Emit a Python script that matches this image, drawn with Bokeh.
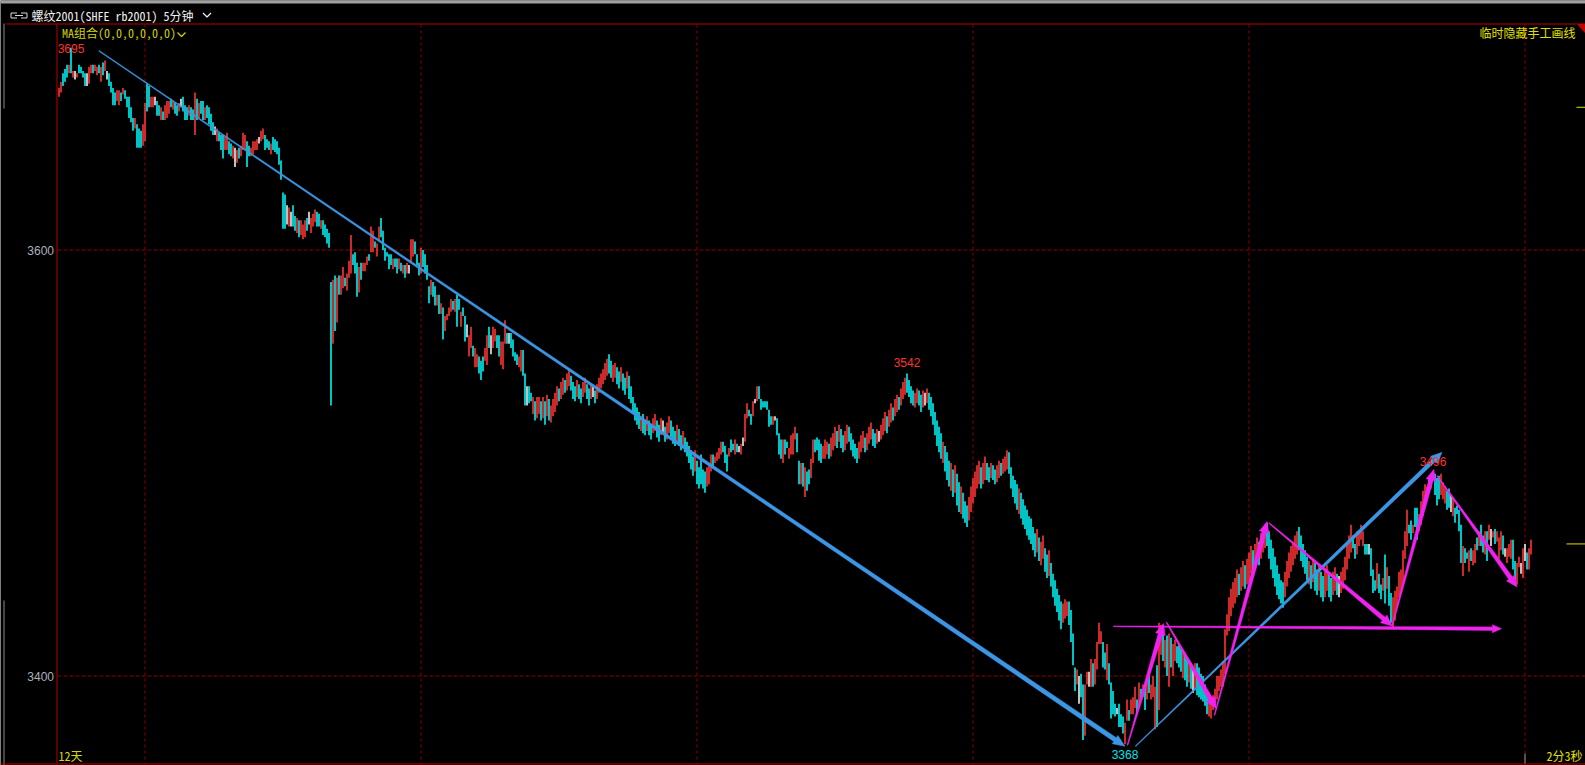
import math
from bokeh.plotting import figure
from bokeh.models import Range1d
from bokeh.core.properties import value
from bokeh.embed import file_html
from bokeh.resources import INLINE

# ---------------- data: rb2001, 5-minute bars ----------------
high = [
    3676, 3679, 3683, 3685, 3687, 3687, 3695, 3684, 3684, 3683,
    3687, 3686, 3684, 3683, 3683, 3686, 3687, 3687, 3687, 3686,
    3687, 3686, 3688, 3689, 3684, 3683, 3679, 3676, 3674, 3675,
    3675, 3674, 3676, 3675, 3672, 3672, 3667, 3662, 3662, 3659,
    3657, 3656, 3659, 3669, 3678, 3677, 3672, 3672, 3672, 3670,
    3668, 3667, 3665, 3668, 3670, 3670, 3671, 3670, 3669, 3668,
    3669, 3671, 3672, 3668, 3667, 3668, 3667, 3666, 3674, 3671,
    3669, 3670, 3670, 3667, 3668, 3667, 3664, 3660, 3658, 3657,
    3655, 3654, 3654, 3653, 3655, 3651, 3650, 3649, 3648, 3647,
    3648, 3649, 3655, 3654, 3651, 3649, 3648, 3651, 3651, 3652,
    3653, 3656, 3657, 3654, 3652, 3651, 3650, 3653, 3652, 3651,
    3648, 3642, 3627, 3626, 3621, 3620, 3618, 3621, 3616, 3615,
    3614, 3614, 3612, 3614, 3615, 3618, 3615, 3617, 3619, 3618,
    3617, 3614, 3614, 3612, 3610, 3608, 3585, 3586, 3588, 3587,
    3588, 3588, 3592, 3587, 3589, 3595, 3607, 3598, 3599, 3594,
    3592, 3594, 3594, 3594, 3597, 3598, 3611, 3609, 3604, 3603,
    3611, 3615, 3609, 3601, 3599, 3598, 3598, 3596, 3596, 3596,
    3596, 3594, 3593, 3593, 3594, 3593, 3605, 3605, 3604, 3598,
    3594, 3601, 3600, 3598, 3593, 3583, 3586, 3585, 3583, 3579,
    3579, 3575, 3573, 3569, 3570, 3573, 3577, 3576, 3577, 3579,
    3577, 3571, 3573, 3569, 3565, 3560, 3564, 3555, 3554, 3551,
    3550, 3548, 3550, 3554, 3560, 3564, 3560, 3564, 3563, 3560,
    3560, 3557, 3557, 3567, 3561, 3561, 3561, 3558, 3552, 3551,
    3550, 3553, 3553, 3542, 3536, 3536, 3533, 3531, 3529, 3531,
    3531, 3529, 3531, 3529, 3532, 3530, 3527, 3530, 3533, 3536,
    3535, 3538, 3540, 3539, 3542, 3544, 3541, 3538, 3536, 3539,
    3537, 3535, 3538, 3540, 3537, 3535, 3537, 3536, 3534, 3537,
    3540, 3542, 3544, 3547, 3549, 3551, 3548, 3546, 3547, 3545,
    3543, 3545, 3542, 3540, 3543, 3541, 3536, 3531, 3528, 3526,
    3524, 3522, 3523, 3520, 3522, 3520, 3518, 3521, 3523, 3520,
    3518, 3521, 3520, 3517, 3519, 3522, 3520, 3517, 3515, 3518,
    3516, 3513, 3515, 3512, 3510, 3508, 3506, 3503, 3506, 3501,
    3498, 3504, 3497, 3496, 3498, 3500, 3504, 3504, 3503, 3505,
    3507, 3510, 3510, 3508, 3504, 3507, 3511, 3509, 3511, 3509,
    3508, 3509, 3512, 3523, 3528, 3525, 3523, 3529, 3530, 3536,
    3536, 3530, 3529, 3529, 3529, 3525, 3522, 3522, 3522, 3521,
    3514, 3511, 3511, 3511, 3510, 3507, 3513, 3514, 3517, 3514,
    3501, 3500, 3500, 3498, 3496, 3497, 3502, 3511, 3511, 3512,
    3511, 3509, 3508, 3511, 3510, 3509, 3512, 3514, 3517, 3515,
    3518, 3516, 3513, 3515, 3518, 3517, 3514, 3511, 3509, 3507,
    3510, 3513, 3515, 3512, 3514, 3517, 3519, 3516, 3514, 3516,
    3515, 3518, 3521, 3524, 3522, 3525, 3528, 3526, 3530, 3532,
    3531, 3535, 3538, 3540, 3542, 3539, 3536, 3534, 3533, 3535,
    3534, 3532, 3534, 3533, 3535, 3533, 3531, 3528, 3524, 3520,
    3517, 3514, 3510, 3508, 3505, 3501, 3500, 3497, 3499, 3495,
    3491, 3489, 3486, 3482, 3480, 3484, 3489, 3493, 3496, 3499,
    3501, 3498, 3500, 3503, 3500, 3498, 3500, 3499, 3497, 3499,
    3501, 3500, 3502, 3503, 3506, 3505, 3498, 3494, 3492, 3490,
    3488, 3486, 3483, 3480, 3478, 3475, 3474, 3470, 3467, 3469,
    3465, 3463, 3466, 3460, 3457, 3459, 3453, 3448, 3445, 3441,
    3438, 3435, 3434, 3436, 3435, 3435, 3431, 3420, 3404, 3403,
    3400, 3401, 3396, 3396, 3402, 3402, 3408, 3406, 3408, 3416,
    3425, 3421, 3416, 3411, 3415, 3406, 3397, 3393, 3387, 3385,
    3387, 3382, 3381, 3378, 3389, 3384, 3389, 3390, 3395, 3389,
    3397, 3394, 3396, 3395, 3399, 3400, 3396, 3400, 3395, 3405,
    3425, 3424, 3424, 3417, 3419, 3420, 3418, 3415, 3417, 3414,
    3415, 3413, 3412, 3410, 3409, 3407, 3406, 3404, 3406, 3406,
    3404, 3401, 3400, 3396, 3393, 3390, 3389, 3391, 3394, 3400,
    3400, 3403, 3407, 3422, 3429, 3437, 3441, 3444, 3446, 3450,
    3448, 3451, 3454, 3452, 3455, 3458, 3461, 3459, 3462, 3465,
    3463, 3467, 3469, 3470, 3472, 3468, 3464, 3460, 3456, 3452,
    3448, 3445, 3444, 3449, 3454, 3458, 3461, 3463, 3466, 3468,
    3470, 3466, 3462, 3459, 3456, 3454, 3452, 3455, 3453, 3450,
    3452, 3449, 3447, 3450, 3452, 3448, 3446, 3449, 3451, 3448,
    3447, 3449, 3451, 3456, 3462, 3466, 3471, 3466, 3462, 3468,
    3468, 3471, 3468, 3462, 3462, 3462, 3460, 3450, 3445, 3453,
    3448, 3443, 3446, 3457, 3451, 3447, 3439, 3437, 3440, 3442,
    3449, 3450, 3459, 3468, 3478, 3471, 3473, 3471, 3479, 3479,
    3476, 3482, 3487, 3490, 3489, 3493, 3495, 3496, 3495, 3493,
    3494, 3495, 3491, 3489, 3487, 3488, 3485, 3484, 3479, 3480,
    3478, 3471, 3461, 3460, 3458, 3459, 3460, 3459, 3462, 3465,
    3468, 3471, 3466, 3468, 3468, 3471, 3469, 3468, 3469, 3468,
    3465, 3468, 3466, 3460, 3460, 3462, 3464, 3464, 3454, 3453,
    3456, 3453, 3460, 3462, 3458, 3460, 3464,
]

low = [
    3672, 3674, 3677, 3679, 3681, 3683, 3683, 3681, 3680, 3681,
    3683, 3683, 3681, 3677, 3677, 3678, 3683, 3683, 3684, 3682,
    3683, 3679, 3682, 3684, 3680, 3677, 3674, 3668, 3668, 3670,
    3668, 3670, 3673, 3671, 3667, 3662, 3660, 3656, 3657, 3648,
    3648, 3648, 3649, 3651, 3665, 3667, 3667, 3667, 3668, 3663,
    3663, 3661, 3661, 3661, 3662, 3664, 3667, 3666, 3664, 3663,
    3665, 3667, 3665, 3661, 3661, 3663, 3661, 3661, 3654, 3661,
    3662, 3664, 3661, 3661, 3662, 3659, 3656, 3654, 3654, 3651,
    3651, 3647, 3643, 3647, 3647, 3645, 3644, 3643, 3639, 3641,
    3643, 3644, 3647, 3647, 3639, 3644, 3644, 3645, 3647, 3647,
    3650, 3651, 3652, 3647, 3648, 3647, 3645, 3647, 3646, 3645,
    3640, 3633, 3610, 3610, 3612, 3611, 3611, 3611, 3609, 3608,
    3606, 3607, 3605, 3606, 3609, 3612, 3608, 3611, 3613, 3611,
    3611, 3610, 3607, 3606, 3603, 3601, 3527, 3556, 3562, 3566,
    3579, 3579, 3582, 3583, 3581, 3587, 3589, 3593, 3589, 3578,
    3580, 3586, 3590, 3590, 3593, 3595, 3599, 3599, 3601, 3597,
    3604, 3606, 3600, 3595, 3597, 3591, 3593, 3591, 3592, 3589,
    3591, 3590, 3589, 3587, 3589, 3589, 3594, 3597, 3598, 3593,
    3588, 3589, 3592, 3589, 3586, 3575, 3579, 3578, 3574, 3574,
    3570, 3570, 3558, 3562, 3567, 3569, 3571, 3572, 3571, 3564,
    3572, 3564, 3569, 3557, 3559, 3550, 3554, 3550, 3545, 3545,
    3542, 3539, 3543, 3548, 3546, 3554, 3551, 3554, 3557, 3554,
    3550, 3546, 3544, 3556, 3556, 3556, 3554, 3550, 3548, 3546,
    3545, 3543, 3541, 3527, 3527, 3528, 3529, 3523, 3520, 3521,
    3523, 3520, 3521, 3518, 3522, 3520, 3519, 3522, 3524, 3527,
    3529, 3530, 3532, 3533, 3534, 3536, 3534, 3530, 3529, 3531,
    3530, 3528, 3531, 3533, 3530, 3527, 3530, 3531, 3528, 3530,
    3533, 3535, 3537, 3539, 3541, 3542, 3540, 3538, 3540, 3537,
    3535, 3538, 3534, 3532, 3535, 3530, 3528, 3524, 3520, 3518,
    3516, 3515, 3514, 3513, 3515, 3513, 3511, 3514, 3515, 3512,
    3510, 3513, 3514, 3510, 3511, 3514, 3512, 3509, 3508, 3510,
    3508, 3506, 3507, 3505, 3503, 3500, 3497, 3494, 3496, 3490,
    3488, 3490, 3488, 3486, 3489, 3490, 3496, 3498, 3500, 3501,
    3502, 3504, 3505, 3500, 3496, 3503, 3505, 3506, 3504, 3505,
    3505, 3504, 3508, 3510, 3521, 3522, 3518, 3522, 3528, 3529,
    3530, 3525, 3526, 3526, 3525, 3517, 3518, 3518, 3520, 3513,
    3504, 3502, 3500, 3504, 3507, 3502, 3504, 3504, 3511, 3505,
    3490, 3490, 3489, 3484, 3487, 3490, 3493, 3500, 3505, 3506,
    3501, 3500, 3502, 3502, 3504, 3502, 3503, 3506, 3508, 3507,
    3510, 3507, 3505, 3506, 3509, 3510, 3506, 3503, 3502, 3500,
    3502, 3505, 3507, 3505, 3506, 3509, 3511, 3508, 3507, 3509,
    3510, 3511, 3513, 3515, 3514, 3517, 3519, 3520, 3522, 3524,
    3525, 3527, 3530, 3532, 3533, 3531, 3528, 3527, 3526, 3528,
    3527, 3524, 3526, 3527, 3528, 3525, 3522, 3518, 3513, 3508,
    3505, 3502, 3500, 3496, 3492, 3489, 3487, 3484, 3486, 3480,
    3477, 3476, 3474, 3472, 3470, 3473, 3477, 3481, 3484, 3488,
    3490, 3488, 3490, 3492, 3492, 3491, 3493, 3492, 3490, 3491,
    3493, 3494, 3495, 3496, 3497, 3495, 3488, 3484, 3481, 3478,
    3476, 3474, 3471, 3469, 3466, 3464, 3462, 3459, 3456, 3458,
    3454, 3452, 3455, 3449, 3446, 3447, 3442, 3437, 3433, 3430,
    3426, 3422, 3425, 3427, 3428, 3424, 3416, 3405, 3393, 3396,
    3387, 3390, 3370, 3372, 3396, 3395, 3395, 3395, 3396, 3403,
    3415, 3415, 3404, 3403, 3398, 3396, 3380, 3382, 3381, 3382,
    3376, 3376, 3373, 3368, 3379, 3379, 3382, 3382, 3385, 3382,
    3385, 3389, 3390, 3384, 3389, 3392, 3389, 3390, 3375, 3376,
    3384, 3410, 3407, 3404, 3400, 3395, 3404, 3400, 3407, 3406,
    3404, 3402, 3399, 3398, 3395, 3397, 3394, 3392, 3394, 3391,
    3390, 3389, 3388, 3386, 3382, 3381, 3380, 3384, 3386, 3389,
    3393, 3395, 3395, 3401, 3419, 3421, 3428, 3432, 3434, 3437,
    3438, 3440, 3442, 3441, 3443, 3444, 3448, 3447, 3450, 3453,
    3452, 3455, 3458, 3460, 3461, 3455, 3450, 3446, 3442, 3438,
    3436, 3434, 3432, 3437, 3442, 3446, 3449, 3452, 3455, 3457,
    3459, 3454, 3451, 3448, 3445, 3443, 3441, 3444, 3440, 3438,
    3440, 3437, 3435, 3437, 3440, 3437, 3435, 3438, 3440, 3438,
    3437, 3439, 3441, 3445, 3450, 3455, 3458, 3460, 3455, 3457,
    3461, 3464, 3461, 3457, 3457, 3457, 3447, 3439, 3440, 3441,
    3439, 3436, 3440, 3434, 3441, 3433, 3425, 3423, 3426, 3432,
    3437, 3439, 3443, 3455, 3461, 3467, 3464, 3467, 3470, 3464,
    3468, 3471, 3475, 3479, 3485, 3486, 3488, 3492, 3485, 3480,
    3483, 3485, 3483, 3481, 3478, 3479, 3477, 3475, 3472, 3476,
    3468, 3453, 3447, 3453, 3455, 3449, 3454, 3452, 3453, 3459,
    3461, 3461, 3458, 3457, 3454, 3464, 3461, 3465, 3462, 3463,
    3455, 3459, 3457, 3456, 3453, 3456, 3455, 3450, 3445, 3443,
    3451, 3448, 3446, 3454, 3450, 3450, 3457,
]

# bar direction: u = close above open, d = close below open, f = unchanged
trend = (
    "u u d d d u d u f u  d d d d f u u d u u  d u d u f d d d d u  u d u d d d d d u d "
    "d d u u d d u u f d  d u d u u u d u d d  u f d d d u d d u d  u d d u d d d d f u "
    "d d d u u d d u f u  d u u u d d u u u u  f u u d d d u d d d  d d d d f u f d d u "
    "d u u u d f u u u d  d u d d d d d u d u  d u u d u u u d d d  u d u u u d u u d u "
    "u d d d d d d u d d  u d u d u f u u d d  d u d d d d u d d u  d u d u u u u d u d "
    "d u d d f u u d u u  d d d u u d f u u d  d u u u d f d d d d  u u d d f d d u d u "
    "u d u d u d u u u u  d u u d u u d d d u  d d u u d d u f d u  u u u u u d d u u d "
    "d u d d u d d d d d  d u d d u d d u u d  d u f d u u d d d u  d d u d d d d d u d "
    "d d d d u u u d u u  u u d d d u d d u d  f u f u u d d u f u  d d d d d d d u f d "
    "d d u d d u u u u d  d u d u d d u u d d  d d u u u d u u u d  u d d u u d d d d d "
    "u u u d u u u d d u  f u u u d u u d u u  d u u u d d d d u u  d d u f u d d d d d "
    "d d u d d d u d u d  d u d d d u u u u u  u d u u d d u d d u  u d u u u d d d d d "
    "u d d d d d d d d u  d u u d d u d d d d  d d u u u d d d d u  f d d u u f u d u u "
    "u u d d u d d d d f  d d d u u d u u u d  u d u d u d u u u d  u u d u d u d u u d "
    "d d u d d u d f u d  d d d d d u u u u u  u u u u u u u u u u  d u u d u u u d u u "
    "d u u u d d d d d d  d d d u u u u u u u  d d d d d u d u d d  u d d u u d d u u d "
    "f u u u u u u d d u  u u u d d f d d d u  d d u d u d d u u u  u u u u u d d u d d "
    "u u u u u d u u d d  d u u u d d f u d d  d d u d d u d u u d  u d d u d u f u d u "
    "u u d f u u u d d u  u f u f d u u"
).split()

grid_prices = [3600, 3400]                    # dashed price levels
day_breaks = [43, 181, 319, 457, 595, 733]    # session separators (bar index)
last_close = 3462
ref_level = 3667
# (bar index, which end, gap between bar end and label in px)
extremes = [(6, "high", -5), (424, "high", 7), (533, "low", 6), (687, "high", 6)]

# hand-drawn trend arrows: (bar index, price) start -> end
blue_arrows = [((20, 3693.5), (533, 3367.0)),
               ((538.25, 3367.0), (691.5, 3505.0))]
pink_arrows = [((527.25, 3423.3), (721.25, 3422.2)),
               ((534.25, 3367.5), (552.25, 3424.6)),
               ((553.75, 3425.2), (578.6, 3384.7)),
               ((577.75, 3381.6), (604.0, 3472.5)),
               ((605.0, 3471.8), (666.6, 3423.5)),
               ((666.6, 3423.5), (687.4, 3497.0)),
               ((689.0, 3494.0), (729.0, 3441.8))]

# ---------------- canvas geometry ----------------
W, H = 1585, 765
X0_PX, BAR_PX = 58.5, 2.0
Y0_PX, PRICE_REF, PX_PER_PT = 249.5, 3600.0, 2.13


def x_px(i):
    return X0_PX + BAR_PX * i


def y_px(v):
    return Y0_PX + (PRICE_REF - v) * PX_PER_PT


def px_x(px):
    return (px - X0_PX) / BAR_PX


def px_y(py):
    return PRICE_REF - (py - Y0_PX) / PX_PER_PT


p = figure(width=W, height=H,
           x_range=Range1d(px_x(0), px_x(W)), y_range=Range1d(px_y(H), px_y(0)),
           output_backend="svg", toolbar_location=None,
           x_axis_type=None, y_axis_type=None, min_border=0,
           background_fill_color="black", border_fill_color="black",
           outline_line_color=None)

RED_LINE = "#b80000"
GRID_RED = "#8c0000"
UP, DOWN, FLAT = "#ff3434", "#00f4f8", "#f0f0f0"
YELLOW = "#e0e000"
CN = "Noto Sans Mono CJK SC, Noto Sans CJK SC"
NUM = "Liberation Sans"


def seg_px(x0, y0, x1, y1, color, width=1, dash="solid"):
    p.segment(x0=[px_x(x0)], y0=[px_y(y0)], x1=[px_x(x1)], y1=[px_y(y1)],
              line_color=color, line_width=width, line_dash=dash)


def text_px(px, py, txt, color, size=12, font=CN, align="left", baseline="middle"):
    p.text(x=[px_x(px)], y=[px_y(py)], text=[txt], text_color=color,
           text_font=value(font), text_font_size=value(f"{size}px"),
           text_align=align, text_baseline=baseline)


def poly_px(pts, color, lw=0.0):
    p.patch([px_x(a) for a, _ in pts], [px_y(b) for _, b in pts],
            fill_color=color, line_color=color if lw else None, line_width=lw or 1)


# window chrome
p.quad(left=[px_x(0)], right=[px_x(W)], top=[px_y(0)], bottom=[px_y(3)],
       fill_color="#a0a0a0", line_color=None)
seg_px(3.5, 23, 3.5, 108, "#8a8a8a")
seg_px(3.5, 600, 3.5, 765, "#8a8a8a")

# price grid and session separators
for g in grid_prices:
    p.segment(x0=[px_x(57)], y0=[g], x1=[px_x(W)], y1=[g],
              line_color=GRID_RED, line_width=1, line_dash="4 2")
for b in day_breaks:
    p.segment(x0=[b], y0=[px_y(24)], x1=[b], y1=[px_y(763)],
              line_color=GRID_RED, line_width=1, line_dash="3 3")

# bars
n = min(len(high), len(low), len(trend))
idx = list(range(n))
colors = [UP if t == "u" else DOWN if t == "d" else FLAT for t in trend[:n]]
p.vbar(x=idx, width=0.8, top=high[:n], bottom=low[:n],
       fill_color=colors, line_color=None)


# tapered arrows
def arrow(a, b, color, w0, w1, head_len, head_w):
    x0, y0 = x_px(a[0]), y_px(a[1])
    x1, y1 = x_px(b[0]), y_px(b[1])
    L = math.hypot(x1 - x0, y1 - y0)
    ux, uy = (x1 - x0) / L, (y1 - y0) / L
    nx, ny = -uy, ux
    bx, by = x1 - ux * head_len, y1 - uy * head_len
    pts = [(x0 + nx * w0 / 2, y0 + ny * w0 / 2),
           (bx + nx * w1 / 2, by + ny * w1 / 2),
           (bx + nx * head_w / 2, by + ny * head_w / 2),
           (x1, y1),
           (bx - nx * head_w / 2, by - ny * head_w / 2),
           (bx - nx * w1 / 2, by - ny * w1 / 2),
           (x0 - nx * w0 / 2, y0 - ny * w0 / 2)]
    poly_px(pts, color, lw=0.5)


BLUE, PINK = "#3c96e6", "#f022f0"
arrow(*blue_arrows[0], BLUE, 0.8, 4.5, 12, 10)
arrow(*blue_arrows[1], BLUE, 0.8, 4.0, 11, 10)
arrow(*pink_arrows[0], PINK, 0.8, 3.5, 9, 8)
for a, b in pink_arrows[1:]:
    arrow(a, b, PINK, 0.8, 4.5, 11, 10)

# extreme labels, text taken from the bar values
for k, kind, gap in extremes:
    if kind == "high":
        v = high[k]
        p.text(x=[k], y=[v + gap / PX_PER_PT], text=[str(v)], text_color="#ff3030",
               text_font=value(NUM), text_font_size=value("12px"),
               text_align="center", text_baseline="bottom")
    else:
        v = low[k]
        p.text(x=[k], y=[v - gap / PX_PER_PT], text=[str(v)], text_color="#00e0e8",
               text_font=value(NUM), text_font_size=value("12px"),
               text_align="center", text_baseline="top")

# frame lines
seg_px(5, 23.5, 1576, 23.5, RED_LINE)
seg_px(56.5, 23, 56.5, 763, RED_LINE)
seg_px(0, 763.5, W, 763.5, RED_LINE)
poly_px([(1576, 23), (1585, 23), (1585, 33)], "#c80000")

# right-edge markers
p.segment(x0=[px_x(1576)], y0=[ref_level], x1=[px_x(W)], y1=[ref_level],
          line_color=YELLOW, line_width=1)
p.segment(x0=[px_x(1566)], y0=[last_close], x1=[px_x(W)], y1=[last_close],
          line_color=YELLOW, line_width=1)
seg_px(x_px(day_breaks[-1]), 753, x_px(day_breaks[-1]), 763, "#9a9a9a")

# price axis labels
for g in grid_prices:
    p.text(x=[px_x(53.5)], y=[g], text=[str(g)], text_color="#aab2bc",
           text_font=value(NUM), text_font_size=value("12px"),
           text_align="right", text_baseline="middle")

# header
icon = [[(16.5, 12.5), (10.5, 12.5), (10.5, 17.5), (16.5, 17.5)],
        [(20.5, 12.5), (26.5, 12.5), (26.5, 17.5), (20.5, 17.5)],
        [(14.5, 15), (22.5, 15)]]
p.multi_line(xs=[[px_x(a) for a, _ in s] for s in icon],
             ys=[[px_y(b) for _, b in s] for s in icon],
             line_color="#d8d8d8", line_width=1)
text_px(31, 15, "螺纹2001(SHFE rb2001)  5分钟", "#f0f0f0", size=12)
p.line([px_x(202.5), px_x(206.5), px_x(210.5)], [px_y(12.5), px_y(16.5), px_y(12.5)],
       line_color="#f0f0f0", line_width=1.2)

text_px(61.5, 32, "MA组合(0,0,0,0,0,0)", "#d2d200", size=12)
p.line([px_x(177), px_x(181), px_x(185)], [px_y(32), px_y(36), px_y(32)],
       line_color="#d2d200", line_width=1.2)
text_px(1575, 32, "临时隐藏手工画线", YELLOW, size=12, align="right")

# footer
text_px(58, 755, "12天", "#d8d800", size=12)
text_px(1582, 755, "2分3秒", YELLOW, size=12, align="right")

open("out.html", "w").write(file_html(p, INLINE))
